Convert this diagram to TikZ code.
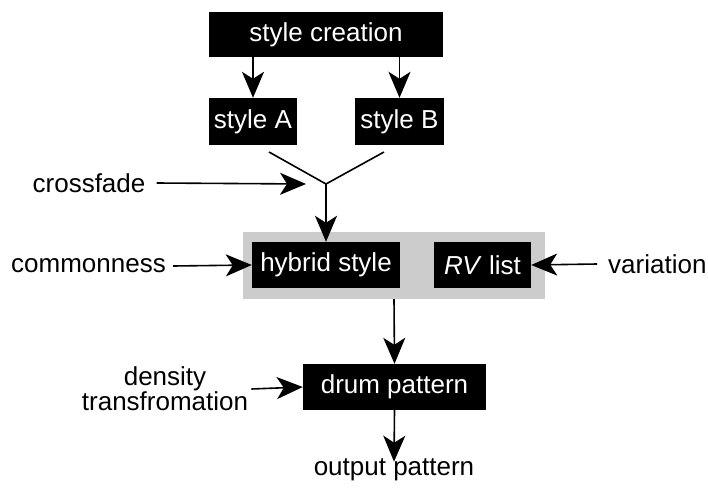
\documentclass[tikz,border=0pt]{standalone}
\usepackage{fontspec}
\setmainfont{Liberation Sans}
\usetikzlibrary{arrows.meta}
\begin{document}
\begin{tikzpicture}[x=1pt,y=-1pt,
  blk/.style={fill=black,text=white,inner sep=0pt,font=\fontsize{26}{28}\selectfont},
  lbl/.style={inner sep=0pt,font=\fontsize{26}{28}\selectfont,align=center},
  arr/.style={line width=1.6pt,arrows={-Stealth[length=26pt,width=22pt,inset=7pt]}},
  ln/.style={line width=1.6pt}]
\useasboundingbox (0,0) rectangle (708,487);
\node[fill=black!20,minimum width=302pt,minimum height=67pt,inner sep=0pt] (grey) at (394,265.5) {};
\node[blk,minimum width=234pt,minimum height=45pt] (sc) at (326,34.5) {style creation};
\node[blk,minimum width=88pt,minimum height=47pt] (sA) at (253,121.5) {style A};
\node[blk,minimum width=89pt,minimum height=47pt] (sB) at (399.5,121.5) {style B};
\node[blk,minimum width=148pt,minimum height=46pt] (hyb) at (326,265) {hybrid style};
\node[blk,minimum width=97pt,minimum height=46pt] (rv) at (482.5,265) {\textit{RV} list};
\node[blk,minimum width=183pt,minimum height=46pt] (drum) at (394.5,387) {drum pattern};
\node[lbl] (cf) at (89,183) {crossfade};
\node[lbl] (cm) at (88.5,266) {commonness};
\node[lbl,anchor=west] (var) at (608,264) {variation};
\node[lbl,font=\fontsize{26}{20}\selectfont] (dens) at (165,389) {density\\transfromation};
\node[lbl] (out) at (394,470) {output pattern};
\coordinate (J) at (326,184);
\coordinate (ya) at (269,152);
\coordinate (yb) at (384,152);
\draw[arr] (sc.south -| sA) -- (sA.north);
\draw[arr] (sc.south -| sB) -- (sB.north);
\draw[ln] (ya) -- (J) -- (yb);
\draw[arr] ([xshift=11pt]cf.east) -- ([xshift=-20pt]J);
\draw[arr] (J) -- (hyb.north);
\draw[arr] ([xshift=7pt]cm.east) -- (hyb.west);
\draw[arr] ([xshift=-11pt]var.west) -- (rv.east);
\draw[arr] (grey.south) -- (drum.north);
\draw[arr] ([xshift=3pt]dens.east) -- (drum.west);
\draw[arr] (drum.south) -- ([yshift=-3pt]out.north);
\end{tikzpicture}
\end{document}
